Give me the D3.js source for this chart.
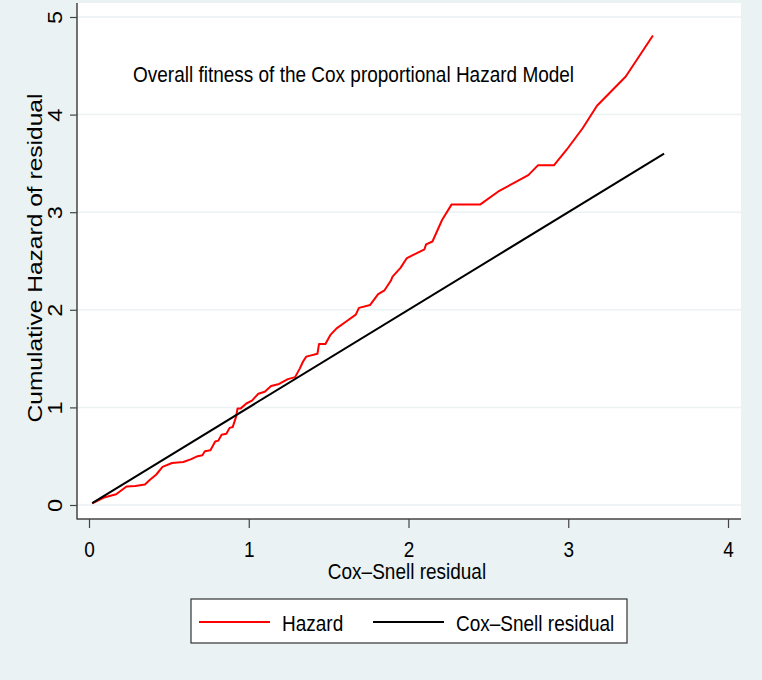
<!DOCTYPE html>
<html>
<head>
<meta charset="utf-8">
<script src="https://cdn.jsdelivr.net/npm/d3@7"></script>
<style>
  body { margin: 0; background: #eaf2f3; }
  svg { display: block; }
  text { font-family: "Liberation Sans", Arial, sans-serif; fill: #000; font-size: 19px; }
</style>
</head>
<body>
<div id="vis"></div>
<script>
// hazard curve (Nelson-Aalen cumulative hazard vs Cox-Snell residual)
var hazardX = [0.02, 0.10, 0.17, 0.235, 0.29, 0.35, 0.38, 0.42, 0.46, 0.52, 0.59, 0.64, 0.68, 0.71, 0.725, 0.76,
  0.79, 0.81, 0.83, 0.86, 0.88, 0.90, 0.92, 0.93, 0.95, 0.985, 1.02, 1.06, 1.10, 1.14, 1.19, 1.245, 1.29,
  1.32, 1.34, 1.36, 1.43, 1.44, 1.48, 1.51, 1.55, 1.61, 1.67, 1.69, 1.76, 1.81, 1.85, 1.89, 1.90, 1.95,
  1.99, 2.10, 2.11, 2.15, 2.21, 2.27, 2.45, 2.56, 2.75, 2.81, 2.91, 2.99, 3.09, 3.18, 3.36, 3.53];
var hazardY = [0.017, 0.08, 0.11, 0.19, 0.195, 0.21, 0.256, 0.31, 0.39, 0.43, 0.44, 0.47, 0.50, 0.51, 0.55, 0.56,
  0.65, 0.66, 0.72, 0.73, 0.79, 0.80, 0.90, 0.99, 0.99, 1.04, 1.07, 1.14, 1.16, 1.22, 1.24, 1.29, 1.31,
  1.40, 1.47, 1.52, 1.55, 1.65, 1.65, 1.74, 1.81, 1.88, 1.95, 2.02, 2.05, 2.16, 2.20, 2.30, 2.34, 2.43,
  2.53, 2.62, 2.67, 2.70, 2.92, 3.08, 3.08, 3.21, 3.38, 3.48, 3.48, 3.64, 3.86, 4.09, 4.39, 4.81];

// reference line: cumulative hazard = residual
var coxX = [0.02, 3.6];
var coxY = [0.02, 3.6];

var xTicks = [0, 1, 2, 3, 4];
var yTicks = [0, 1, 2, 3, 4, 5];

var legendLabels = ["Hazard", "Cox\u2013Snell residual"];
var seriesColors = ["#ff0000", "#000000"];

var W = 762, H = 680;
var plot = { left: 77, right: 741, top: 3, bottom: 519 };
var stretch = 1.12;   // the original export is a bit taller than wide

var svg = d3.select("#vis").append("svg")
  .attr("width", W)
  .attr("height", H);

svg.append("rect")
  .attr("width", W).attr("height", H)
  .attr("fill", "#eaf2f3");

svg.append("rect")
  .attr("x", plot.left).attr("y", plot.top)
  .attr("width", plot.right - plot.left)
  .attr("height", plot.bottom - plot.top)
  .attr("fill", "#fff");

var x = d3.scaleLinear().domain([0, 4]).range([89, 728]);
var y = d3.scaleLinear().domain([0, 5]).range([505, 17]);

// grid
svg.append("g").selectAll("line")
  .data(yTicks)
  .enter().append("line")
  .attr("x1", plot.left).attr("x2", plot.right)
  .attr("y1", function(d) { return y(d); })
  .attr("y2", function(d) { return y(d); })
  .attr("stroke", "#eaf2f3")
  .attr("stroke-width", 1.5);

// y axis
var yAxis = d3.axisLeft(y).tickValues(yTicks).tickSize(7).tickSizeOuter(0).tickFormat(d3.format("d"));
var gy = svg.append("g")
  .attr("transform", "translate(" + plot.left + ",0)")
  .call(yAxis);
gy.attr("font-size", null).attr("font-family", null);
gy.select(".domain").remove();
gy.append("line")
  .attr("y1", plot.top).attr("y2", plot.bottom + 0.5)
  .attr("stroke", "#444").attr("stroke-width", 1.5);
gy.selectAll(".tick line").attr("stroke", "#444").attr("stroke-width", 1.2);
gy.selectAll(".tick text")
  .attr("x", 0).attr("dy", 0)
  .attr("transform", "translate(-15,0) scale(1," + stretch + ") rotate(-90)")
  .attr("text-anchor", "middle")
  .style("font-size", "21px");

// x axis
var xAxis = d3.axisBottom(x).tickValues(xTicks).tickSize(9).tickSizeOuter(0).tickFormat(d3.format("d"));
var gx = svg.append("g")
  .attr("transform", "translate(0," + plot.bottom + ")")
  .call(xAxis);
gx.attr("font-size", null).attr("font-family", null);
gx.select(".domain").remove();
gx.append("line")
  .attr("x1", plot.left).attr("x2", plot.right)
  .attr("stroke", "#444").attr("stroke-width", 1.5);
gx.selectAll(".tick line").attr("stroke", "#444").attr("stroke-width", 1.2);
gx.selectAll(".tick text")
  .attr("y", 0).attr("dy", 0)
  .attr("transform", "translate(0,38) scale(1," + stretch + ")");

// axis titles
svg.append("text")
  .attr("transform", "translate(42,258) scale(1,1.17) rotate(-90)")
  .attr("text-anchor", "middle")
  .style("font-size", "21px")
  .text("Cumulative Hazard of residual");

svg.append("text")
  .attr("transform", "translate(407,579) scale(1," + stretch + ")")
  .attr("text-anchor", "middle")
  .text("Cox\u2013Snell residual");

// lines
var line = d3.line()
  .x(function(d) { return x(d[0]); })
  .y(function(d) { return y(d[1]); });

svg.append("path")
  .datum(d3.zip(hazardX, hazardY))
  .attr("d", line)
  .attr("fill", "none")
  .attr("stroke", seriesColors[0])
  .attr("stroke-width", 2)
  .attr("stroke-linejoin", "round");

svg.append("path")
  .datum(d3.zip(coxX, coxY))
  .attr("d", line)
  .attr("fill", "none")
  .attr("stroke", seriesColors[1])
  .attr("stroke-width", 2);

// note in plot
svg.append("text")
  .attr("transform", "translate(133,82) scale(1," + stretch + ")")
  .text("Overall fitness of the Cox proportional Hazard Model");

// legend
var lg = svg.append("g").attr("transform", "translate(191,599)");
lg.append("rect")
  .attr("width", 436).attr("height", 44)
  .attr("fill", "#fff")
  .attr("stroke", "#333").attr("stroke-width", 1.2);

var items = lg.selectAll(".item")
  .data(legendLabels)
  .enter().append("g")
  .attr("class", "item")
  .attr("transform", function(d, i) { return "translate(" + (i * 174) + ",0)"; });

items.append("line")
  .attr("x1", 8).attr("x2", 79)
  .attr("y1", 23).attr("y2", 23)
  .attr("stroke", function(d, i) { return seriesColors[i]; })
  .attr("stroke-width", 2);

items.append("text")
  .attr("transform", "translate(91,32) scale(1," + stretch + ")")
  .text(function(d) { return d; });
</script>
</body>
</html>
